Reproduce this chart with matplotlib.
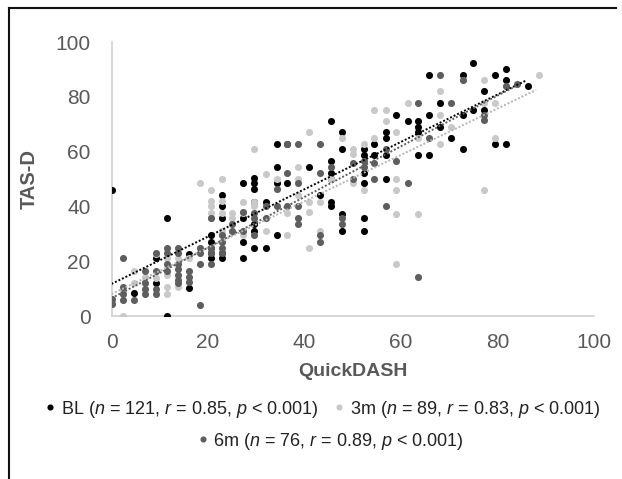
import matplotlib
matplotlib.use("Agg")
import matplotlib.pyplot as plt
import numpy as np
from matplotlib.lines import Line2D

plt.rcParams['font.family'] = ['Liberation Sans', 'DejaVu Sans']
plt.rcParams['mathtext.fontset'] = 'custom'
plt.rcParams['mathtext.rm'] = 'Liberation Sans'
plt.rcParams['mathtext.it'] = 'Liberation Sans:italic'

# ---- data ----
bl_x = [0, 4.6, 9.2, 9.2, 11.5, 11.5, 16, 16,
        20.6, 20.6, 20.6, 20.6, 20.6,
        22.8, 22.8, 22.8, 22.8, 22.8,
        27.3, 27.3, 27.3, 27.3,
        29.6, 29.6, 29.6, 29.6, 29.6, 29.6, 29.6,
        32, 32, 34.2, 34.2, 34.2, 34.2, 36.4, 36.4, 41, 43.3,
        45.4, 45.4, 45.4, 45.4, 45.4, 45.4,
        47.7, 47.7, 47.7, 47.7,
        52.3, 52.3, 52.3, 52.3, 52.3, 52.3,
        54.5, 54.5, 56.8, 56.8, 56.8, 56.8,
        59, 61.4, 63.5, 63.5, 63.5, 63.5,
        65.8, 65.8, 65.8, 68.1, 68.1, 70.4,
        72.8, 72.8, 72.8, 75, 75, 77.2, 77.2,
        79.5, 79.5, 81.8, 81.8, 81.8, 86.3]
bl_y = [46, 8.3, 21, 12, 35.6, 0, 22.7, 10.3,
        29.5, 27, 25, 23, 21,
        44, 40, 35.6, 23, 21,
        48.4, 35.6, 27, 21,
        50.4, 48.4, 46.5, 41.7, 33.5, 31, 25,
        41.7, 25, 62.8, 54.5, 48.4, 29.5, 62.8, 48.4, 54.5, 44,
        71, 56.5, 52.3, 50, 41.7, 40,
        67, 61, 37.4, 31,
        61, 58.7, 52.3, 48.4, 35.6, 31,
        62.8, 58.7, 67, 65, 58.7, 50,
        73.5, 71, 71, 69, 67, 58.7,
        88, 73.5, 58.7, 77.7, 69, 65,
        88, 73.5, 61, 92.4, 75.3, 82, 75.3,
        88, 62.8, 90, 86, 62.8, 84]

m3_x = [0, 2.3, 2.3, 4.6, 4.6, 6.9, 9.2, 9.2, 11.5, 11.5, 11.5, 11.5,
        13.8, 13.8, 16, 18.3, 18.3,
        20.6, 20.6, 20.6, 20.6, 20.6, 22.8, 22.8, 22.8, 22.8,
        25, 25, 27.3, 27.3, 27.3, 29.6, 29.6, 29.6, 32, 32, 34.2,
        36.4, 36.4, 38.7, 38.7, 38.7, 41, 41, 41, 41, 43.3, 43.3,
        45.4, 47.7, 50, 50, 50, 52.3, 52.3, 54.5, 54.5, 56.8, 56.8,
        59, 59, 59, 59, 59, 61.4, 63.5, 63.5, 68.1, 68.1, 68.1, 70.4,
        72.8, 77.2, 77.2, 77.2, 79.5, 79.5, 81.8, 88.6]
m3_y = [5, 0, 9, 16.6, 12, 14.4, 22.7, 14, 21, 15, 10.5, 8,
        21, 10.5, 21, 48.4, 25,
        46, 42, 40, 37.5, 35.6, 50, 42, 37.5, 31,
        37.5, 35.6, 41.7, 37.5, 29.5, 61, 41.7, 40, 52, 31, 50,
        37.5, 29.5, 54.5, 50, 44, 67, 41.7, 38, 25, 41.7, 31,
        50, 65, 61, 59, 48.4, 62.8, 46, 75, 65, 75, 71,
        67, 50, 46, 37.4, 19, 77.7, 37.4, 65, 82, 73.5, 62.8, 69,
        86, 86, 77.7, 46, 77.7, 65, 84, 88]

m6_x = [0, 0, 2.3, 2.3, 2.3, 2.3, 4.6, 6.9, 6.9, 6.9, 6.9,
        9.2, 9.2, 9.2, 9.2, 11.5, 11.5, 11.5, 11.5,
        13.8, 13.8, 13.8, 13.8, 13.8, 13.8, 13.8, 16, 16, 16,
        18.3, 18.3, 18.3, 18.3, 20.6, 20.6, 20.6, 20.6,
        22.8, 22.8, 22.8, 22.8, 25, 25, 27.3, 27.3,
        29.6, 29.6, 29.6, 32, 32, 34.2, 34.2, 36.4, 36.4, 36.4,
        38.7, 38.7, 38.7, 38.7, 38.7, 43.3, 43.3, 43.3, 43.3, 45.4,
        47.7, 47.7, 50, 50, 52.3, 52.3, 54.5, 54.5, 56.8, 56.8,
        59, 61.4, 63.5, 63.5, 65.8, 68.1, 70.4, 72.8, 77.2, 77.2, 81.8, 84]
m6_y = [6.2, 4.2, 21, 10.5, 8, 6, 6, 16.6, 12, 10, 8,
        23, 16.6, 10, 8, 25, 23, 19, 16.6,
        25, 23, 19, 17, 15, 13, 12, 16.6, 14.4, 12.5,
        25, 23, 19, 4, 35.6, 25, 23, 19,
        29.5, 27, 25, 23, 33.5, 31, 38, 31,
        37.5, 35.6, 29.5, 40, 35.6, 46.5, 40, 62.8, 52.3, 40,
        62.8, 48.4, 40, 35.6, 33.5, 62.8, 52.3, 29.5, 27, 54.5,
        33.5, 35.6, 50, 56, 54.5, 56.5, 56, 50, 61, 40,
        56.5, 48.4, 77.7, 14.4, 65, 88, 77.7, 86, 73.5, 71.5, 84, 84.5]

# trend lines: (intercept, value at end, end x)
bl_trend = (11.7, 86.1, 86.1)
m3_trend = (8.0, 82.5, 88.0)
m6_trend = (6.5, 84.3, 84.2)

labels = [r"BL ($\it{n}$ = 121, $\it{r}$ = 0.85, $\it{p}$ < 0.001)",
          r"3m ($\it{n}$ = 89, $\it{r}$ = 0.83, $\it{p}$ < 0.001)",
          r"6m ($\it{n}$ = 76, $\it{r}$ = 0.89, $\it{p}$ < 0.001)"]
x_ticks = [0, 20, 40, 60, 80, 100]
y_ticks = [0, 20, 40, 60, 80, 100]

# ---- styling ----
c_bl, c_3m, c_6m = "#000000", "#c9c9c9", "#5e5e5e"
tick_col = "#595959"

W, H = 622, 479
fig = plt.figure(figsize=(W / 100, H / 100), dpi=100)
ax = fig.add_axes([111.5 / W, 1 - 316 / H, (594 - 111.5) / W, (316 - 42) / H])

ms = 26
ax.scatter(bl_x, bl_y, s=ms, color=c_bl, linewidths=0, zorder=3)
ax.scatter(m3_x, m3_y, s=ms, color=c_3m, linewidths=0, zorder=3)
ax.scatter(m6_x, m6_y, s=ms, color=c_6m, linewidths=0, zorder=3)

for (b0, b1, xe), col in [(bl_trend, c_bl), (m3_trend, "#b5b5b5"), (m6_trend, c_6m)]:
    ax.plot([0, xe], [b0, b1], linestyle=(0, (1, 1)), color=col, lw=1.4, zorder=4)

ax.set_xlim(0, 100)
ax.set_ylim(0, 100)
ax.set_xticks(x_ticks)
ax.set_yticks(y_ticks)
ax.tick_params(length=0, labelsize=15, colors=tick_col, pad=12)
ax.tick_params(axis='y', pad=15)
for s in ["top", "right"]:
    ax.spines[s].set_visible(False)
for s in ["left", "bottom"]:
    ax.spines[s].set_color("#d0d0d0")
    ax.spines[s].set_linewidth(1.2)
ax.set_xlabel("QuickDASH", fontsize=14, fontweight="bold", color=tick_col, labelpad=8)
ax.set_ylabel("TAS-D", fontsize=14.5, fontweight="bold", color=tick_col, labelpad=12)

def mk(c):
    return Line2D([], [], marker="o", linestyle="none", markersize=3.4,
                  markerfacecolor=c, markeredgecolor=c)

fig.legend([mk(c_bl), mk(c_3m)], labels[:2], ncol=2, frameon=False,
           loc="center", bbox_to_anchor=(324 / W, 1 - 409 / H),
           fontsize=13, handlelength=0.3, handletextpad=0.45,
           columnspacing=1.0, labelcolor="#222222")
fig.legend([mk(c_6m)], labels[2:], frameon=False,
           loc="center", bbox_to_anchor=(332 / W, 1 - 441 / H),
           fontsize=13, handlelength=0.3, handletextpad=0.45,
           labelcolor="#222222")

# outer frame (left, top, right)
fx = [8.5 / W, 8.5 / W, 616 / W, 616 / W]
fy = [0, 1 - 7.5 / H, 1 - 7.5 / H, 0]
fig.add_artist(Line2D(fx[:2], fy[:2], color="#111111", lw=1.5, transform=fig.transFigure))
fig.add_artist(Line2D(fx[1:3], fy[1:3], color="#111111", lw=1.5, transform=fig.transFigure))

fig.savefig("out.png", dpi=100)
